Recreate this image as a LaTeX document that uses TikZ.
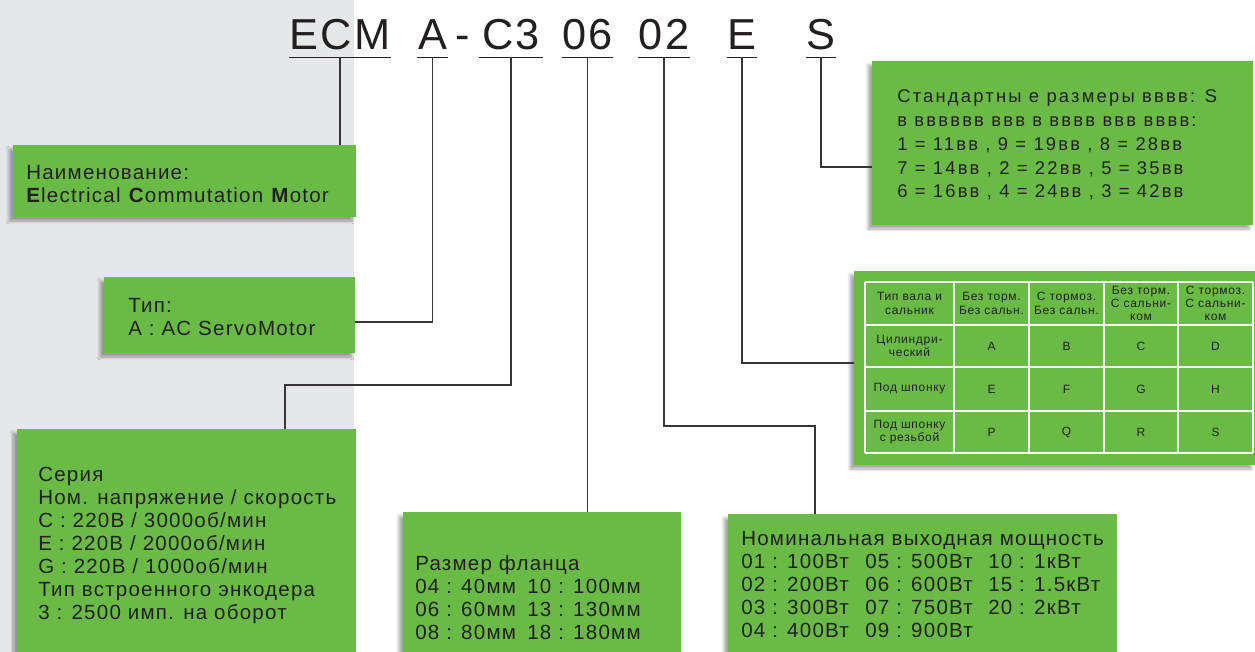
\documentclass[tikz,border=0pt]{standalone}
\usepackage{fontspec}
\setmainfont{Liberation Sans}
\newfontfamily\boxfont[LetterSpace=6]{Liberation Sans}
\newfontfamily\sizefont[LetterSpace=12]{Liberation Sans}
\newfontfamily\codefont[LetterSpace=6]{Liberation Sans}
\usetikzlibrary{fit}
\usetikzlibrary{shadows.blur}
\definecolor{boxgreen}{RGB}{106,187,70}
\definecolor{leftgray}{RGB}{230,231,232}
\definecolor{inkgray}{RGB}{35,31,32}

\begin{document}
\begin{tikzpicture}[x=0.75pt,y=-0.75pt,
	box/.style={fill=boxgreen,inner sep=0pt,blur shadow={shadow xshift=-3pt,shadow yshift=-3pt,shadow blur steps=6,shadow opacity=35}},
	txt/.style={anchor=base west,inner sep=0pt,text=inkgray,font=\boxfont\fontsize{15.4}{17.25}\selectfont},
	code/.style={anchor=base,inner xsep=0pt,inner ysep=5.25pt,text depth=0pt,text=inkgray,font=\codefont\fontsize{32.5}{36}\selectfont},
	uline/.style={draw=inkgray,line width=1.1pt},
	wire/.style={draw=inkgray!90,line width=1.1pt},
	cell/.style={align=center,inner sep=0pt,text=inkgray,font=\boxfont\fontsize{9}{10}\selectfont}]
	\useasboundingbox (0,0) rectangle (1255,652);
	\fill[leftgray] (0,0) rectangle (354,652);

	\foreach \name/\code/\pos/\len in {ecm/ECM/340/72, tA/A/432.5/23.25, sC/C3/511/48, f06/06/587.5/35.25, p02/02/664/33, shE/E/742/21, szS/S/821/21} {
		\node[code,minimum width=\len pt] (\name) at (\pos,50) {\code};
		\draw[uline] (\name.south west) -- (\name.south east);
	}
	\node[code] (dash) at (463,50) {-};

	\node[box,fit={(13,145) (356,217)}] (naming) {};
	\node[box,fit={(104,277) (355,353)}] (kind) {};
	\node[box,fit={(17,429) (356,652)}] (series) {};
	\node[box,fit={(403,512) (681,652)}] (flange) {};
	\node[box,fit={(728,514) (1117,652)}] (power) {};
	\node[box,fit={(872,61) (1253,225)}] (size) {};
	\node[box,fit={(854,271) (1255,465)}] (shaft) {};

	\node[txt] (namingT) at (26,180) {\begin{tabular}[t]{@{}l@{}}
		Наименование:\\
		\textbf{E}lectrical \textbf{C}ommutation \textbf{M}otor
	\end{tabular}};
	\node[txt] (kindT) at (128,312) {\begin{tabular}[t]{@{}l@{}}
		Тип:\\
		A : AC ServoMotor
	\end{tabular}};
	\node[txt] (seriesT) at (38,481) {\begin{tabular}[t]{@{}l@{}}
		Серия\\
		Ном. напряжение / скорость\\
		C : 220В / 3000об/мин\\
		E : 220В / 2000об/мин\\
		G : 220В / 1000об/мин\\
		Тип встроенного энкодера\\
		3 : 2500 имп. на оборот
	\end{tabular}};
	\node[txt] (flangeT) at (415,570) {\begin{tabular}[t]{@{}p{84pt}@{}l@{}}
		\multicolumn{2}{@{}l@{}}{Размер фланца}\\
		04 : 40мм & 10 : 100мм\\
		06 : 60мм & 13 : 130мм\\
		08 : 80мм & 18 : 180мм
	\end{tabular}};
	\node[txt] (powerT) at (741,545) {\begin{tabular}[t]{@{}p{93pt}@{}p{92.25pt}@{}l@{}}
		\multicolumn{3}{@{}l@{}}{Номинальная выходная мощность}\\
		01 : 100Вт & 05 : 500Вт & 10 : 1кВт\\
		02 : 200Вт & 06 : 600Вт & 15 : 1.5кВт\\
		03 : 300Вт & 07 : 750Вт & 20 : 2кВт\\
		04 : 400Вт & 09 : 900Вт &
	\end{tabular}};
	\node[txt,font=\sizefont\fontsize{13.8}{17.8}\selectfont] (sizeT) at (897,103) {\begin{tabular}[t]{@{}l@{}}
		Стандартны е размеры вввв: S\\
		в вввввв ввв в вввв ввв вввв:\\
		1 = 11вв , 9 = 19вв , 8 = 28вв\\
		7 = 14вв , 2 = 22вв , 5 = 35вв\\
		6 = 16вв , 4 = 24вв , 3 = 42вв
	\end{tabular}};

	\foreach \x in {865,954,1029,1104,1178,1253}
		\draw[white,line width=1.1pt] (\x,282) -- (\x,453);
	\foreach \y in {282,325,367,411,453}
		\draw[white,line width=1.1pt] (865,\y) -- (1253,\y);
	\foreach \c/\x/\head in {0/909.5/{Тип вала и\\сальник}, 1/991.5/{Без торм.\\Без сальн.}, 2/1066.5/{С тормоз.\\Без сальн.}, 3/1141/{Без торм.\\С сальни-\\ком}, 4/1215.5/{С тормоз.\\С сальни-\\ком}}
		\node[cell] (h\c) at (\x,303.5) {\head};
	\foreach \r/\y/\lab/\a/\b/\c/\d in {1/346/{Цилиндри-\\ческий}/A/B/C/D, 2/389/{Под шпонку}/E/F/G/H, 3/432/{Под шпонку\\с резьбой}/P/Q/R/S} {
		\node[cell] (r\r c0) at (909.5,\y) {\lab};
		\node[cell] (r\r c1) at (991.5,\y) {\a};
		\node[cell] (r\r c2) at (1066.5,\y) {\b};
		\node[cell] (r\r c3) at (1141,\y) {\c};
		\node[cell] (r\r c4) at (1215.5,\y) {\d};
	}

	\coordinate (bendC) at (285,385);
	\coordinate (bendP) at (815,426);
	\draw[wire] (ecm.south) -- (ecm.south |- naming.north);
	\draw[wire] (tA.south) |- ([yshift=-5.25pt]kind.east);
	\draw[wire] (sC.south) |- (bendC) -- (bendC |- series.north);
	\draw[wire] (f06.south) -- (f06.south |- flange.north);
	\draw[wire] (p02.south) |- (bendP) -- (bendP |- power.north);
	\draw[wire] (shE.south) |- ([yshift=3.75pt]shaft.west);
	\draw[wire] (szS.south) |- ([yshift=-18pt]size.west);
\end{tikzpicture}
\end{document}
